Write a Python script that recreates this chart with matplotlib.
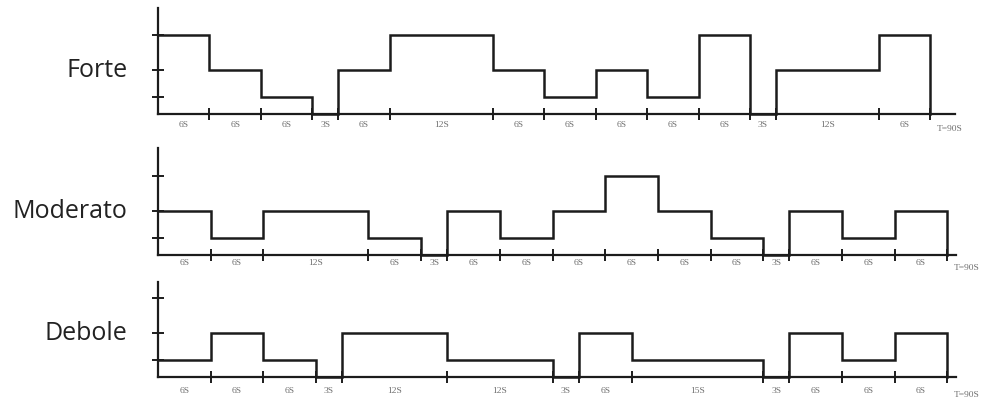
import numpy as np
import matplotlib.pyplot as plt

# intensity profile per block: duration (s) and level (0 = pause, 1 low, 2 mid, 3 high)
forte_dur = [6, 6, 6, 3, 6, 12, 6, 6, 6, 6, 6, 3, 12, 6]
forte_lvl = [3, 2, 1, 0, 2, 3, 2, 1, 2, 1, 3, 0, 2, 3]
forte_lab = ["6S", "6S", "6S", "3S", "6S", "12S", "6S", "6S", "6S", "6S", "6S", "3S", "12S", "6S"]

moderato_dur = [6, 6, 12, 6, 3, 6, 6, 6, 6, 6, 6, 3, 6, 6, 6]
moderato_lvl = [2, 1, 2, 1, 0, 2, 1, 2, 3, 2, 1, 0, 2, 1, 2]
moderato_lab = ["6S", "6S", "12S", "6S", "3S", "6S", "6S", "6S", "6S", "6S", "6S", "3S", "6S", "6S", "6S"]

debole_dur = [6, 6, 6, 3, 12, 12, 3, 6, 15, 3, 6, 6, 6]
debole_lvl = [1, 2, 1, 0, 2, 1, 0, 2, 1, 0, 2, 1, 2]
debole_lab = ["6S", "6S", "6S", "3S", "12S", "12S", "3S", "6S", "15S", "3S", "6S", "6S", "6S"]

names = ["Forte", "Moderato", "Debole"]
total_label = "T=90S"

# drawn height of each level
level_h = [0, 17, 44, 79]

W, H = 982, 404
fig = plt.figure(figsize=(W / 100, H / 100), dpi=100)
fig.patch.set_facecolor("white")

# (top px, bottom px, baseline px, y-axis top, px per second, x-axis end px, label pad)
panels = [
    (0, 135, 114, 106, 8.58, 955, 5),
    (135, 270, 255, 107, 8.77, 956, 3),
    (270, 404, 377, 95, 8.77, 956, 7),
]
data = [
    (forte_dur, forte_lvl, forte_lab),
    (moderato_dur, moderato_lvl, moderato_lab),
    (debole_dur, debole_lvl, debole_lab),
]

ink = "#1c1c1c"
small = dict(fontsize=6.8, color="#707070", family="Liberation Serif")
for (top, bot, base, ytop, pps, xend_px, pad), (dur, lvl, lab), name in zip(panels, data, names):
    ax = fig.add_axes([0, 1 - bot / H, 1, (bot - top) / H])
    ax.set_xlim(-158 / pps, (W - 158) / pps)
    ax.set_ylim(-(bot - base), base - top)

    edges = np.concatenate([[0], np.cumsum(dur)])
    heights = [level_h[v] for v in lvl] + [0]
    ax.step(edges, heights, where="post", color=ink, lw=1.8, solid_joinstyle="miter")

    for s in ["top", "right"]:
        ax.spines[s].set_visible(False)
    ax.spines["bottom"].set_position(("data", 0))
    ax.spines["left"].set_position(("data", 0))
    ax.spines["bottom"].set_bounds(0, (xend_px - 158) / pps)
    ax.spines["left"].set_bounds(0, ytop)
    for s in ["bottom", "left"]:
        ax.spines[s].set_linewidth(1.6)
        ax.spines[s].set_color(ink)

    ax.set_xticks(edges[1:])
    ax.set_xticklabels([])
    ax.set_xticks((edges[:-1] + edges[1:]) / 2, minor=True)
    ax.set_xticklabels(lab, minor=True, **small)
    ax.tick_params(axis="x", which="major", direction="inout", length=9, width=1.4, color=ink)
    ax.tick_params(axis="x", which="minor", length=0, pad=pad)

    ax.set_yticks(level_h[1:])
    ax.set_yticklabels([])
    ax.tick_params(axis="y", direction="inout", length=8, width=1.4, color=ink)

    ax.annotate(total_label, (edges[-1], 0), xytext=(14, -(pad + 6)), textcoords="offset points",
                ha="center", va="center", **small)
    ax.annotate(name, (0, level_h[2]), xytext=(-22, 0), textcoords="offset points",
                ha="right", va="center", fontsize=18, color="#222222", family="Open Sans")
    ax.patch.set_alpha(0)

fig.savefig("out.png", dpi=100)
